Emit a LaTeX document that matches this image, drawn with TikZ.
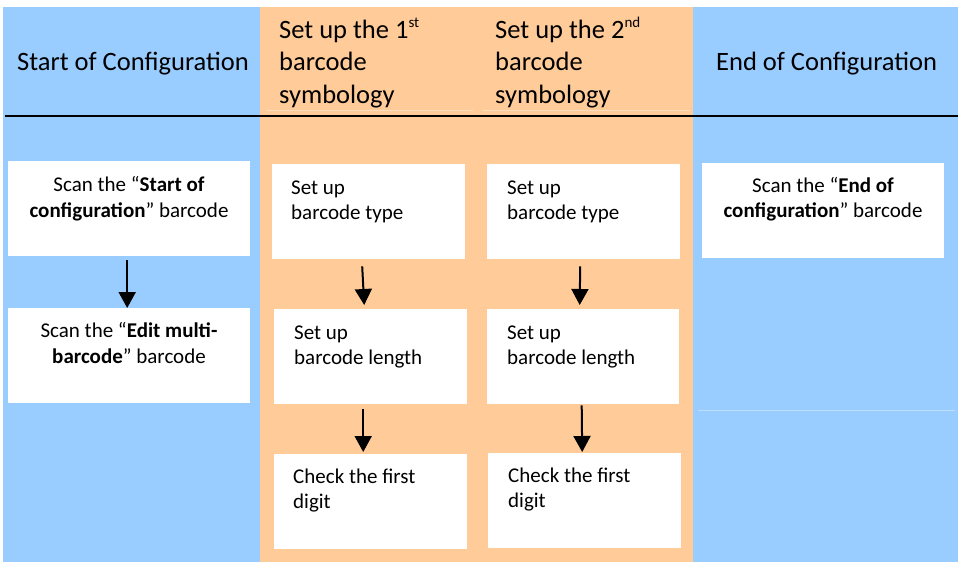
\documentclass[tikz,border=0pt]{standalone}
\usepackage{fontspec}
\setmainfont{Carlito}
\usetikzlibrary{arrows.meta}
\definecolor{colblue}{RGB}{153,204,255}
\definecolor{colorange}{RGB}{255,204,153}
\definecolor{faintline}{RGB}{190,222,255}
\definecolor{faintor}{RGB}{255,222,190}
\newcommand{\mysup}[1]{\raisebox{11pt}{\fontsize{15}{15}\selectfont #1}}
\begin{document}
\begin{tikzpicture}[x=1pt,y=-1pt,
  hdr/.style={font=\fontsize{26.5}{32.5}\selectfont, inner sep=0pt, anchor=base west, align=left},
  boxtxt/.style={font=\fontsize{21}{25.5}\selectfont, inner sep=0pt, anchor=base west, align=left},
  ctxt/.style={font=\fontsize{21}{25.5}\selectfont, inner sep=0pt, anchor=base, align=center},
  wbox/.style={fill=white, draw=none, inner sep=0pt, anchor=north west, minimum width=#1, minimum height=95pt},
  flow/.style={-{Triangle[length=16pt,width=17pt]}, line width=2pt}
]
\useasboundingbox (0,0) rectangle (961,562);
% columns
\fill[colblue] (3,7) rectangle (260,562);
\fill[colorange] (260,7) rectangle (693,562);
\fill[colblue] (693,7) rectangle (958,562);
% faint table lines
\draw[faintor, line width=0.8pt] (267,110) -- (473,110);
\draw[faintor, line width=0.8pt] (483,110) -- (690,110);
\draw[faintline, line width=0.8pt] (698,410) -- (955,410);
% header rule
\draw[black, line width=1.6pt] (5,116) -- (958,116);
% headers (base anchor = baseline of last line)
\node[hdr] (h1) at (17,70) {Start of Configuration};
\node[hdr] (h2) at (279,103) {Set up the 1\mysup{st}\\barcode\\symbology};
\node[hdr] (h3) at (495,103) {Set up the 2\mysup{nd}\\barcode\\symbology};
\node[hdr] (h4) at (716,70) {End of Configuration};
% left column
\node[wbox=242pt] (a1) at (8,161) {};
\node[wbox=242pt] (a2) at (8,308) {};
\node[ctxt] (ta1) at (129,217) {Scan the “\textbf{Start of}\\\textbf{configuration}” barcode};
\node[ctxt] (ta2) at (129,363) {Scan the “\textbf{Edit multi-}\\\textbf{barcode}” barcode};
\draw[flow] ([xshift=-2pt,yshift=-4pt]a1.south) -- ([xshift=-2pt]a2.north);
% column 1
\node[wbox=193pt] (b1) at (272,164) {};
\node[wbox=193pt] (b2) at (274,309) {};
\node[wbox=193pt] (b3) at (274,454) {};
\node[boxtxt] (tb1) at (291,219.5) {Set up\\barcode type};
\node[boxtxt] (tb2) at (294,364.5) {Set up\\barcode length};
\node[boxtxt] (tb3) at (293,508.5) {Check the first\\digit};
\draw[flow] ([xshift=-6.5pt,yshift=-7pt]b1.south) -- ([xshift=-6.5pt,yshift=4pt]b2.north);
\draw[flow] ([xshift=-7.5pt,yshift=-5pt]b2.south) -- ([xshift=-7.5pt,yshift=2pt]b3.north);
% column 2
\node[wbox=193pt] (c1) at (487,164) {};
\node[wbox=192pt] (c2) at (487,309) {};
\node[wbox=193pt] (c3) at (488,453) {};
\node[boxtxt] (tc1) at (507,219.5) {Set up\\barcode type};
\node[boxtxt] (tc2) at (507,364.5) {Set up\\barcode length};
\node[boxtxt] (tc3) at (508,507.5) {Check the first\\digit};
\draw[flow] ([xshift=-3.5pt,yshift=-7pt]c1.south) -- ([xshift=-3.5pt,yshift=4pt]c2.north);
\draw[flow] ([xshift=-1.5pt,yshift=-1pt]c2.south) -- ([xshift=-2.5pt,yshift=1pt]c3.north);
% right column
\node[wbox=242pt] (d1) at (702,163) {};
\node[ctxt] (td1) at (823,217.5) {Scan the “\textbf{End of}\\\textbf{configuration}” barcode};
\end{tikzpicture}
\end{document}
